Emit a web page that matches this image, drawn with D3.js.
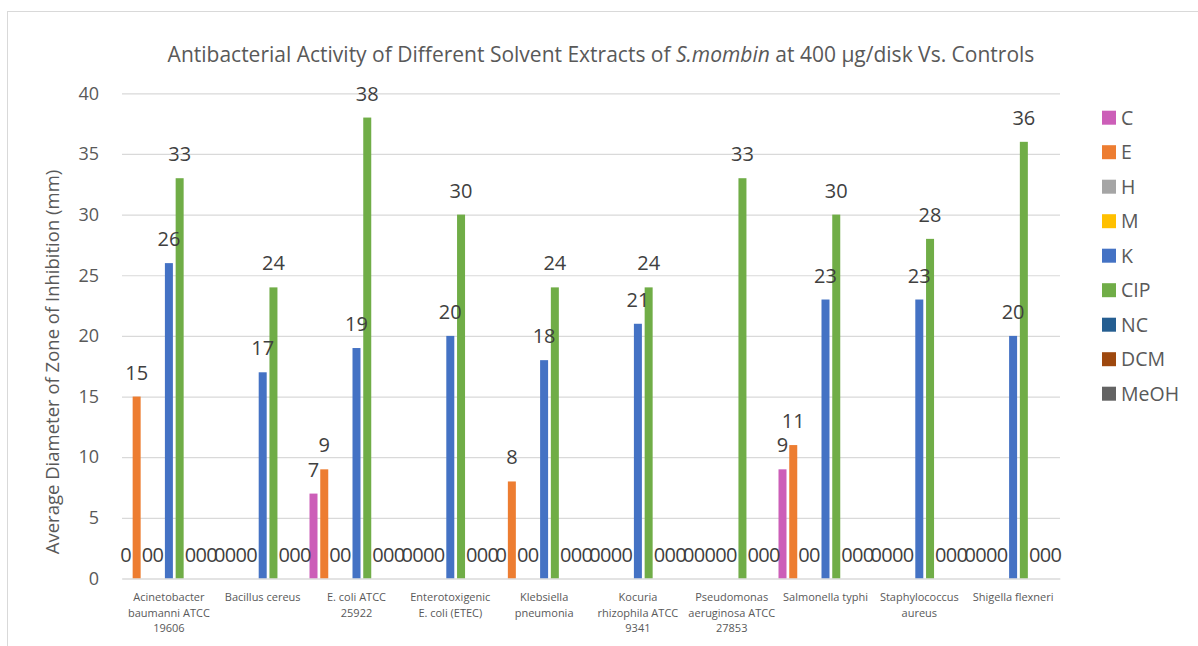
<!DOCTYPE html>
<html>
<head>
<meta charset="utf-8">
<script src="https://cdn.jsdelivr.net/npm/d3@7"></script>
<style>
  html, body { margin: 0; padding: 0; background: #ffffff; }
  svg { display: block; font-family: "Open Sans", "Noto Sans", sans-serif; }
</style>
</head>
<body>
<svg id="chart" width="1198" height="646"></svg>
<script>
// Bacterial strains tested (x categories)
const categories = [
  "Acinetobacter baumanni ATCC 19606",
  "Bacillus cereus",
  "E. coli ATCC 25922",
  "Enterotoxigenic E. coli (ETEC)",
  "Klebsiella pneumonia",
  "Kocuria rhizophila ATCC 9341",
  "Pseudomonas aeruginosa ATCC 27853",
  "Salmonella typhi",
  "Staphylococcus aureus",
  "Shigella flexneri"
];

// Extracts and controls (series)
const seriesNames = ["C", "E", "H", "M", "K", "CIP", "NC", "DCM", "MeOH"];
const seriesColors = ["#CC5EB8", "#ED7D31", "#A5A5A5", "#FFC000", "#4472C4", "#70AD47", "#255E91", "#9E480E", "#636363"];

// Average zone of inhibition (mm), one array per series, in category order
const valuesC    = [0, 0, 7, 0, 0, 0, 0, 9, 0, 0];
const valuesE    = [15, 0, 9, 0, 8, 0, 0, 11, 0, 0];
const valuesH    = [0, 0, 0, 0, 0, 0, 0, 0, 0, 0];
const valuesM    = [0, 0, 0, 0, 0, 0, 0, 0, 0, 0];
const valuesK    = [26, 17, 19, 20, 18, 21, 0, 23, 23, 20];
const valuesCIP  = [33, 24, 38, 30, 24, 24, 33, 30, 28, 36];
const valuesNC   = [0, 0, 0, 0, 0, 0, 0, 0, 0, 0];
const valuesDCM  = [0, 0, 0, 0, 0, 0, 0, 0, 0, 0];
const valuesMeOH = [0, 0, 0, 0, 0, 0, 0, 0, 0, 0];
const seriesValues = [valuesC, valuesE, valuesH, valuesM, valuesK, valuesCIP, valuesNC, valuesDCM, valuesMeOH];

// Y axis ticks
const yTicks = [0, 5, 10, 15, 20, 25, 30, 35, 40];

const svg = d3.select("#chart");
const plot = { left: 122, right: 1060, top: 93.3, bottom: 578.5 };

// Chart area border
svg.append("rect")
  .attr("x", 7.5).attr("y", 11.5)
  .attr("width", 1200).attr("height", 660)
  .attr("fill", "#ffffff").attr("stroke", "#d9d9d9").attr("stroke-width", 1);

const x = d3.scaleBand().domain(categories).range([plot.left, plot.right]).padding(0);
const barStep = 10.75;
const xInner = d3.scaleBand().domain(seriesNames)
  .range([-barStep * seriesNames.length / 2, barStep * seriesNames.length / 2])
  .paddingInner(0.256).paddingOuter(0.128);
const y = d3.scaleLinear().domain([0, 40]).range([plot.bottom, plot.top]);

// Gridlines
svg.append("g")
  .attr("transform", `translate(${plot.left},0)`)
  .call(d3.axisLeft(y).tickValues(yTicks).tickSize(-(plot.right - plot.left)).tickFormat(""))
  .call(g => g.select(".domain").remove())
  .call(g => g.selectAll("line").attr("stroke", "#d9d9d9").attr("stroke-width", 1.2));

// Y tick labels
svg.append("g")
  .attr("transform", `translate(${plot.left},0)`)
  .call(d3.axisLeft(y).tickValues(yTicks).tickSize(0).tickPadding(23))
  .call(g => g.select(".domain").remove())
  .call(g => g.selectAll("text")
    .attr("fill", "#595959")
    .style("font-size", "18px")
    .style("font-family", "'Open Sans', sans-serif"));

// Bars
const groups = svg.append("g").selectAll("g")
  .data(seriesNames)
  .join("g")
  .attr("fill", (d, i) => seriesColors[i]);

groups.selectAll("rect")
  .data((s, si) => categories.map((c, ci) => ({ c, s, v: seriesValues[si][ci] })))
  .join("rect")
  .attr("x", d => x(d.c) + x.bandwidth() / 2 + xInner(d.s))
  .attr("width", xInner.bandwidth())
  .attr("y", d => y(d.v))
  .attr("height", d => y(0) - y(d.v));

// Data labels
const labels = svg.append("g")
  .attr("fill", "#404040")
  .style("font-size", "20px")
  .attr("text-anchor", "middle");
seriesNames.forEach((s, si) => {
  labels.selectAll(null)
    .data(categories.map((c, ci) => ({ c, v: seriesValues[si][ci] })))
    .join("text")
    .attr("x", d => x(d.c) + x.bandwidth() / 2 + xInner(s) + xInner.bandwidth() / 2)
    .attr("y", d => y(d.v) - 17)
    .text(d => d.v);
});

// X axis category labels, wrapped to the band width
const xAxisG = svg.append("g")
  .attr("transform", `translate(0,${plot.bottom})`)
  .call(d3.axisBottom(x).tickSize(0).tickPadding(0))
  .call(g => g.select(".domain").attr("stroke", "#d9d9d9").attr("stroke-width", 1.2));

xAxisG.selectAll("text")
  .attr("fill", "#595959")
  .style("font-size", "11px")
  .style("font-family", "'Open Sans', sans-serif")
  .attr("y", 0).attr("dy", null)
  .each(function (d) {
    const text = d3.select(this);
    const words = d.split(/\s+/);
    const maxW = 90;
    const lines = [];
    let line = [];
    text.text(null);
    const probe = text.append("tspan");
    words.forEach(w => {
      line.push(w);
      probe.text(line.join(" "));
      if (probe.node().getComputedTextLength() > maxW && line.length > 1) {
        line.pop();
        lines.push(line.join(" "));
        line = [w];
      }
    });
    lines.push(line.join(" "));
    probe.remove();
    lines.forEach((l, i) => {
      text.append("tspan").attr("x", 0).attr("y", 22.5 + i * 15.5).text(l);
    });
  });

// Title
const title = svg.append("text")
  .attr("x", 601).attr("y", 62)
  .attr("text-anchor", "middle")
  .attr("fill", "#595959")
  .style("font-size", "21px");
title.append("tspan").text("Antibacterial Activity of Different Solvent Extracts of ");
title.append("tspan").style("font-style", "italic").text("S.mombin");
title.append("tspan").text(" at 400 µg/disk Vs. Controls");

// Y axis title
svg.append("text")
  .attr("transform", "translate(59,362) rotate(-90)")
  .attr("text-anchor", "middle")
  .attr("fill", "#595959")
  .style("font-size", "18.5px")
  .text("Average Diameter of Zone of Inhibition (mm)");

// Legend
const legend = svg.append("g").attr("transform", "translate(1102,117.7)");
const items = legend.selectAll("g")
  .data(seriesNames)
  .join("g")
  .attr("transform", (d, i) => `translate(0,${i * 34.5})`);
items.append("rect")
  .attr("x", 0).attr("y", -7)
  .attr("width", 14).attr("height", 14)
  .attr("fill", (d, i) => seriesColors[i]);
items.append("text")
  .attr("x", 19).attr("y", 7)
  .attr("fill", "#595959")
  .style("font-size", "19.5px")
  .text(d => d);
</script>
</body>
</html>
